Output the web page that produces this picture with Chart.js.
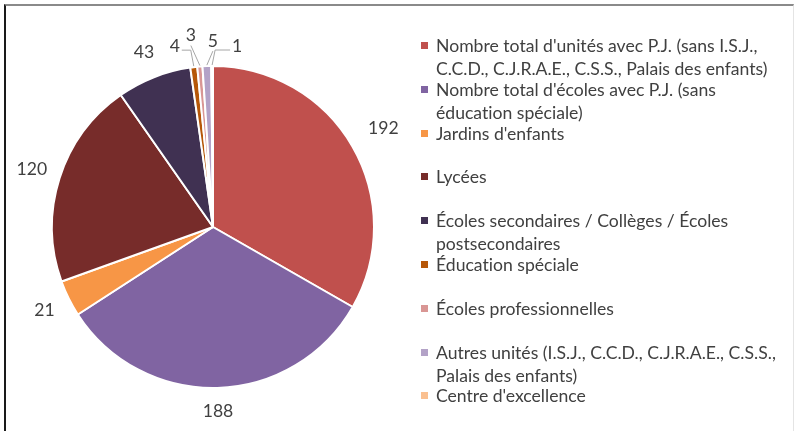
<!DOCTYPE html>
<html lang="fr">
<head>
<meta charset="utf-8">
<title>Répartition des unités avec P.J.</title>
<script src="https://cdn.jsdelivr.net/npm/chart.js@4/dist/chart.umd.min.js"></script>
<style>
  html, body { margin: 0; padding: 0; background: #fff; }
  #wrap { position: relative; width: 796px; height: 431px; overflow: hidden; }
  #frame { position: absolute; left: 4px; top: 4px; right: 2px; bottom: -2px;
           border-top: 2px solid #8a8a8a; border-left: 2px solid #1a1a1a; border-right: 1px solid #e4e4e4; }
  #pie { position: absolute; left: 0; top: 0; }
  #legend { position: absolute; left: 420px; top: 34px; margin: 0; padding: 0; list-style: none;
            font-family: Lato, "Open Sans", sans-serif; font-size: 17.6px; color: #404040;
            font-variant-ligatures: none; }
  #legend li { position: relative; height: 43.8px; padding-left: 16px; line-height: 23px; white-space: nowrap; }
  #legend li span.box { position: absolute; left: 1px; top: 8px; width: 7px; height: 7px; }
</style>
</head>
<body>
<div id="wrap">
  <div id="frame"></div>
  <canvas id="pie" width="796" height="431"></canvas>
  <ul id="legend"></ul>
</div>
<script>
const categories = [
  ["Nombre total d'unités avec P.J. (sans I.S.J.,", "C.C.D., C.J.R.A.E., C.S.S., Palais des enfants)"],
  ["Nombre total d'écoles avec P.J. (sans", "éducation spéciale)"],
  ["Jardins d'enfants"],
  ["Lycées"],
  ["Écoles secondaires / Collèges / Écoles", "postsecondaires"],
  ["Éducation spéciale"],
  ["Écoles professionnelles"],
  ["Autres unités (I.S.J., C.C.D., C.J.R.A.E., C.S.S.,", "Palais des enfants)"],
  ["Centre d'excellence"]
];
const values = [192, 188, 21, 120, 43, 4, 3, 5, 1];
const colors = ["#c0504d", "#8064a2", "#f79646", "#772c2a", "#403152", "#b65708", "#d99694", "#b3a2c7", "#fac090"];

// where each value label sits, relative to the slice's outer edge (small slices get a leader line)
const labelPlacement = [
  { dist: 36 }, { dist: 23 }, { dist: 27 }, { dist: 29 }, { dist: 27 },
  { dx: -19, dy: -21, leader: "elbowLeft" },
  { dx: -9, dy: -31, leader: "straight" },
  { dx: 6, dy: -25, leader: "straight" },
  { dx: 25, dy: -20, leader: "elbowRight" }
];

const valueLabels = {
  id: "valueLabels",
  afterDatasetsDraw(chart) {
    const ctx = chart.ctx;
    const arcs = chart.getDatasetMeta(0).data;
    ctx.save();
    ctx.font = "17.6px Lato, 'Open Sans', sans-serif";
    ctx.fillStyle = "#404040";
    ctx.textAlign = "center";
    ctx.textBaseline = "middle";
    arcs.forEach((arc, i) => {
      const { x, y, startAngle, endAngle, outerRadius } = arc.getProps(["x", "y", "startAngle", "endAngle", "outerRadius"], true);
      const mid = (startAngle + endAngle) / 2;
      const ex = x + Math.cos(mid) * outerRadius;
      const ey = y + Math.sin(mid) * outerRadius;
      const p = labelPlacement[i];
      if (!p.leader) {
        const d = outerRadius + p.dist;
        ctx.fillText(String(values[i]), x + Math.cos(mid) * d, y + Math.sin(mid) * d);
        return;
      }
      const lx = ex + p.dx, ly = ey + p.dy;
      ctx.strokeStyle = "#a6a6a6";
      ctx.lineWidth = 1;
      ctx.beginPath();
      ctx.moveTo(ex, ey - 1);
      if (p.leader === "elbowLeft") {
        ctx.lineTo(ex - 3, ly + 4);
        ctx.lineTo(lx + 7, ly + 4);
      } else if (p.leader === "elbowRight") {
        ctx.lineTo(ex + 3, ly + 4);
        ctx.lineTo(lx - 7, ly + 4);
      } else {
        ctx.lineTo(lx, ly + 10);
      }
      ctx.stroke();
      ctx.fillText(String(values[i]), lx, ly);
    });
    ctx.restore();
  }
};

new Chart(document.getElementById("pie"), {
  type: "pie",
  data: {
    labels: categories.map(c => c.join(" ")),
    datasets: [{
      data: values,
      backgroundColor: colors,
      borderColor: "#ffffff",
      borderWidth: 2
    }]
  },
  options: {
    responsive: false,
    animation: false,
    layout: { padding: { left: 51, right: 421, top: 65, bottom: 42 } },
    plugins: { legend: { display: false }, tooltip: { enabled: false } }
  },
  plugins: [valueLabels]
});

// legend on the right, one evenly spaced slot per category
const legend = document.getElementById("legend");
categories.forEach((lines, i) => {
  const li = document.createElement("li");
  const box = document.createElement("span");
  box.className = "box";
  box.style.background = colors[i];
  li.appendChild(box);
  lines.forEach((t, k) => {
    if (k) li.appendChild(document.createElement("br"));
    li.appendChild(document.createTextNode(t));
  });
  legend.appendChild(li);
});
</script>
</body>
</html>
